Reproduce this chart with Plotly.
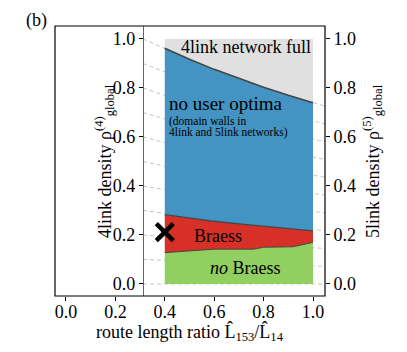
import plotly.graph_objects as go

# --- data ---
ratio = [0.4, 0.5, 0.6, 0.7, 0.8, 0.9, 1.0]
full_boundary = [0.962, 0.917, 0.876, 0.838, 0.803, 0.770, 0.740]   # top of blue region
braess_top = [0.283, 0.268, 0.256, 0.245, 0.235, 0.225, 0.217]     # top of red region

green_x = [0.4, 0.5, 0.6, 0.7, 0.76, 0.8, 0.9, 0.92, 1.0]
green_top = [0.128, 0.136, 0.142, 0.142, 0.142, 0.150, 0.150, 0.152, 0.170]

# dashed guide lines: density conversion 4link -> 5link along the x range
grid_x = [0.312, 0.4, 0.5, 0.6, 0.7, 0.8, 0.9, 1.0, 1.049]
grid_scale = [1.0, 0.962, 0.917, 0.876, 0.838, 0.803, 0.770, 0.740, 0.726]
grid_levels = [0.0, 0.1, 0.2, 0.3, 0.4, 0.5, 0.6, 0.7, 0.8, 0.9, 1.0]

marker_pt = (0.4, 0.212)

tick_vals = [0.0, 0.2, 0.4, 0.6, 0.8, 1.0]
tick_text = ["0.0", "0.2", "0.4", "0.6", "0.8", "1.0"]

FONT = "Liberation Serif, DejaVu Serif, serif"
GREY = "#e0e0e0"
BLUE = "#4393c3"
RED = "#d73027"
GREEN = "#91cf60"
EDGE = "#454545"

fig = go.Figure()

# guide lines (behind everything)
for lv in grid_levels:
    fig.add_trace(go.Scatter(
        x=grid_x, y=[lv * s for s in grid_scale], mode="lines",
        line=dict(color="#c4c4c4", width=1, dash="4px,3px"),
        hoverinfo="skip", showlegend=False,
    ))

# stacked regions
fig.add_trace(go.Scatter(x=ratio, y=[0] * len(ratio), mode="lines",
                         line=dict(width=0), showlegend=False))
fig.add_trace(go.Scatter(x=green_x, y=green_top, mode="lines", fill="tonexty",
                         fillcolor=GREEN, line=dict(width=0), showlegend=False))
fig.add_trace(go.Scatter(x=ratio, y=braess_top, mode="lines", fill="tonexty",
                         fillcolor=RED, line=dict(width=0), showlegend=False))
fig.add_trace(go.Scatter(x=ratio, y=full_boundary, mode="lines", fill="tonexty",
                         fillcolor=BLUE, line=dict(width=0), showlegend=False))
fig.add_trace(go.Scatter(x=ratio, y=[1.0] * len(ratio), mode="lines", fill="tonexty",
                         fillcolor=GREY, line=dict(width=0), showlegend=False))

# boundary lines
fig.add_trace(go.Scatter(x=green_x, y=green_top, mode="lines",
                         line=dict(color=EDGE, width=1), showlegend=False))
fig.add_trace(go.Scatter(x=ratio, y=braess_top, mode="lines",
                         line=dict(color=EDGE, width=1.3), showlegend=False))
fig.add_trace(go.Scatter(x=ratio, y=full_boundary, mode="lines",
                         line=dict(color=EDGE, width=1.6), showlegend=False))

# cross marker
fig.add_trace(go.Scatter(
    x=[marker_pt[0]], y=[marker_pt[1]], mode="markers",
    marker=dict(symbol="x-thin", size=17, line=dict(width=4.5, color="black")),
    showlegend=False,
))

# dummy trace for the right axis
fig.add_trace(go.Scatter(x=[0.5], y=[0.5], yaxis="y2", mode="markers",
                         marker=dict(opacity=0), hoverinfo="skip", showlegend=False))

# page body has an 8px margin, so the figure is shrunk by that amount
yr = [-0.049, 1.053]
fig.update_layout(
    width=399, height=344,
    margin=dict(l=47, r=82, t=18, b=56),
    paper_bgcolor="white", plot_bgcolor="white",
    font=dict(family=FONT, size=18, color="black"),
    xaxis=dict(range=[-0.0445, 1.0486], tickvals=tick_vals, ticktext=tick_text,
               ticks="outside", ticklen=4, tickcolor="black", ticklabelstandoff=-5,
               showgrid=False, zeroline=False, showline=False),
    yaxis=dict(range=yr, tickvals=tick_vals, ticktext=tick_text,
               anchor="free", position=0.326, side="left",
               ticks="outside", ticklen=4, tickcolor="black",
               showline=True, linecolor="#666", linewidth=1.3,
               showgrid=False, zeroline=False),
    yaxis2=dict(range=yr, tickvals=tick_vals, ticktext=tick_text,
                overlaying="y", side="right", anchor="x",
                ticks="outside", ticklen=4, tickcolor="black",
                showgrid=False, zeroline=False, showline=False),
    shapes=[dict(type="rect", xref="paper", yref="paper", x0=0, x1=1, y0=0, y1=1,
                 line=dict(color="black", width=1.2))],
)

ann = [
    dict(x=0.728, y=0.967, text="4link network full", size=18),
    dict(x=0.41, y=0.735, text="no user optima", size=19, xanchor="left"),
    dict(x=0.41, y=0.665, text="(domain walls in", size=11.5, xanchor="left"),
    dict(x=0.41, y=0.618, text="4link and 5link networks)", size=11.5, xanchor="left"),
    dict(x=0.615, y=0.195, text="Braess", size=18),
    dict(x=0.725, y=0.065, text="<i>no</i> Braess", size=18),
]
for a in ann:
    fig.add_annotation(x=a["x"], y=a["y"], xref="x", yref="y", text=a["text"],
                       showarrow=False, xanchor=a.get("xanchor", "center"), yanchor="middle",
                       font=dict(family=FONT, size=a["size"], color="black"))

# paper-positioned labels (pixel positions converted to plot-area fractions)
def px(xp):
    return (xp - 55) / 270


def py(yp):
    return (296 - yp) / 270


fig.add_annotation(x=px(36), y=py(20), xref="paper", yref="paper", text="(b)",
                   showarrow=False, xanchor="center", yanchor="middle",
                   font=dict(family=FONT, size=18))
fig.add_annotation(x=0.5, y=py(332), xref="paper", yref="paper",
                   text="route length ratio L\u0302<sub>153</sub>/L\u0302<sub>14</sub>",
                   xanchor="center", yanchor="middle",
                   showarrow=False, font=dict(family=FONT, size=18))
fig.add_annotation(x=px(104), y=0.5, xref="paper", yref="paper", textangle=-90,
                   text="4link density \u03c1<sup>(4)</sup><sub>global</sub>",
                   xanchor="center", yanchor="middle",
                   showarrow=False, font=dict(family=FONT, size=18))
fig.add_annotation(x=px(372), y=0.5, xref="paper", yref="paper", textangle=-90,
                   text="5link density \u03c1<sup>(5)</sup><sub>global</sub>",
                   xanchor="center", yanchor="middle",
                   showarrow=False, font=dict(family=FONT, size=18))

fig.write_html("out.html")
